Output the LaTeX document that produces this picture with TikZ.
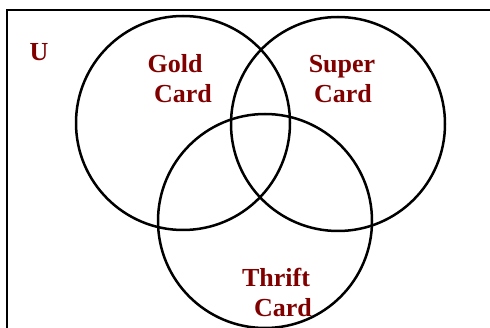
\documentclass[tikz,border=0pt]{standalone}
\usepackage{fontspec}
\setmainfont{Liberation Serif}
\definecolor{lbl}{RGB}{128,0,0}
\begin{document}
\begin{tikzpicture}[x=1pt,y=-1pt,
  venn/.style={circle,draw=black,line width=2.5pt,minimum size=214pt,inner sep=0pt},
  lab/.style={text=lbl,font=\fontsize{26}{30}\selectfont\bfseries,anchor=base,inner sep=0pt}]
\useasboundingbox (0,0) rectangle (490,328);
\clip (0,0) rectangle (490,328);
\draw[line width=2.5pt] (7,10) rectangle (530,360);
\node[venn] (gold) at (183,123) {};
\node[venn] (super) at (338,124) {};
\node[venn] (thrift) at (265,221) {};
\node[lab] (u) at (39,61) {U};
\node[lab] (g1) at (175,73) {Gold};
\node[lab] (g2) at (183,103) {Card};
\node[lab] (s1) at (342,73) {Super};
\node[lab] (s2) at (343,103) {Card};
\node[lab] (t1) at (276,287) {Thrift};
\node[lab] (t2) at (283,317) {Card};
\end{tikzpicture}
\end{document}
